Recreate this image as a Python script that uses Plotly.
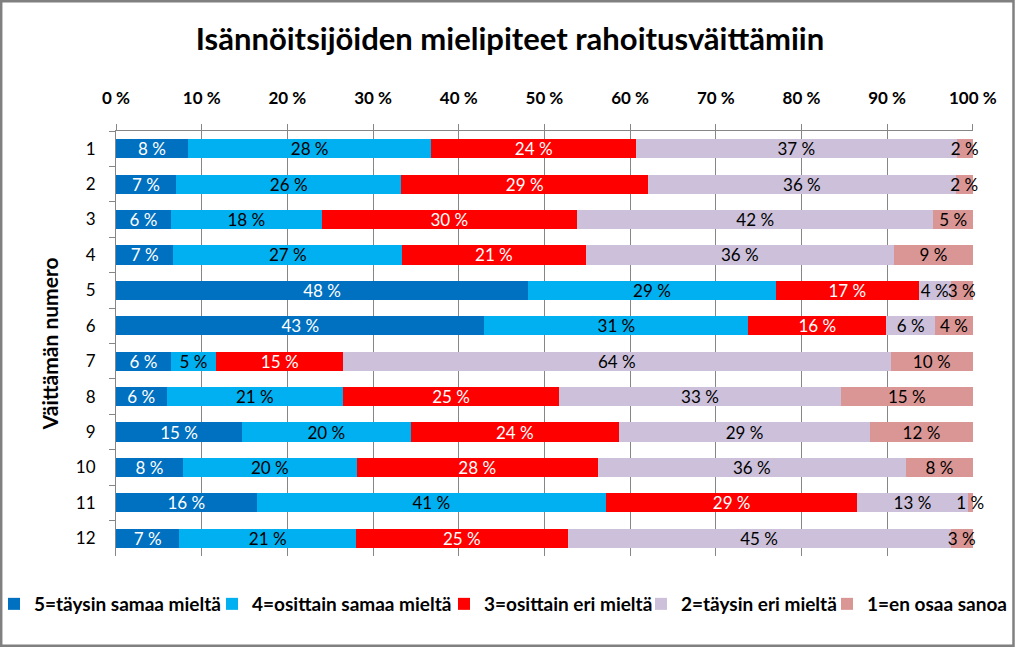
import plotly.graph_objects as go

categories = ["1", "2", "3", "4", "5", "6", "7", "8", "9", "10", "11", "12"]

s5_taysin_samaa = [8.4, 7.0, 6.4, 6.7, 48.1, 43.0, 6.4, 5.9, 14.7, 7.8, 16.4, 7.4]
s4_osittain_samaa = [28.4, 26.3, 17.6, 26.7, 28.9, 30.8, 5.3, 20.6, 19.7, 20.3, 40.8, 20.6]
s3_osittain_eri = [23.9, 28.8, 29.8, 21.4, 16.7, 16.1, 14.8, 25.2, 24.3, 28.1, 29.3, 24.7]
s2_taysin_eri = [37.4, 35.9, 41.6, 36.0, 3.7, 5.7, 63.9, 32.9, 29.3, 36.0, 12.9, 44.7]
s1_en_osaa = [1.9, 2.0, 4.6, 9.2, 2.6, 4.4, 9.6, 15.4, 12.0, 7.8, 0.6, 2.6]

series_names = ["5=täysin samaa mieltä", "4=osittain samaa mieltä", "3=osittain eri mieltä",
                "2=täysin eri mieltä", "1=en osaa sanoa"]
series_values = [s5_taysin_samaa, s4_osittain_samaa, s3_osittain_eri, s2_taysin_eri, s1_en_osaa]
colors = ["#0070C0", "#00B0F0", "#FF0000", "#CCC0DA", "#DA9694"]
text_colors = ["white", "black", "white", "black", "black"]
legend_ids = ["legend", "legend2", "legend3", "legend4", "legend5"]
legend_text_x = [32, 250, 482, 679, 865]   # pixel x where each legend label starts

x_ticks = list(range(0, 101, 10))
x_tick_labels = [f"{t} %" for t in x_ticks]

FONT = "Lato"

fig = go.Figure()
for name, vals, col, tcol, lg in zip(series_names, series_values, colors, text_colors, legend_ids):
    fig.add_trace(go.Bar(
        y=categories, x=vals, name=name, orientation="h", legend=lg,
        marker=dict(color=col, line=dict(width=0)),
        text=[f"{round(v):.0f} %" for v in vals],
        textposition="inside", insidetextanchor="middle", textangle=0,
        textfont=dict(family=FONT, size=17, color=tcol),
        constraintext="none", cliponaxis=False,
        hoverinfo="skip",
    ))

W, H = 1017, 648
L, R, T, B = 116, 44, 131, 92
pw, ph = W - L - R, H - T - B

def px(x):
    return (x - L) / pw

def py(y):
    return (H - B - y) / ph

legend_layouts = {}
for lg, tx in zip(legend_ids, legend_text_x):
    legend_layouts[lg] = dict(
        orientation="h", x=px(tx - 38), xanchor="left", y=py(604), yanchor="middle",
        font=dict(family=FONT, size=19, color="black", weight="bold"),
        itemwidth=30, bgcolor="rgba(0,0,0,0)", borderwidth=0)

fig.update_layout(
    barmode="stack", bargap=0.46,
    width=W, height=H,
    margin=dict(l=L, r=R, t=T, b=B, autoexpand=False),
    paper_bgcolor="white", plot_bgcolor="white",
    font=dict(family=FONT, color="black"),
    uniformtext=dict(minsize=17, mode="show"),
    title=dict(text="<b>Isännöitsijöiden mielipiteet rahoitusväittämiin</b>",
               x=510 / W, xref="container", xanchor="center",
               y=1 - 39 / H, yref="container", yanchor="middle",
               font=dict(family=FONT, size=31, color="black")),
    xaxis=dict(side="top", range=[0, 100.02], tickvals=x_ticks, ticktext=x_tick_labels,
               showgrid=True, gridcolor="#868686", gridwidth=1,
               showline=True, linecolor="#868686", linewidth=1,
               ticks="outside", ticklen=6, tickcolor="#868686",
               ticklabelstandoff=13,
               tickfont=dict(family=FONT, size=17, color="black", weight="bold"),
               zeroline=False, fixedrange=True),
    yaxis=dict(autorange="reversed", type="category",
               showline=True, linecolor="#868686", linewidth=1,
               ticks="outside", ticklen=6, tickcolor="#868686", tickson="boundaries",
               ticklabelstandoff=16,
               tickfont=dict(family=FONT, size=17, color="black"),
               title=dict(text="<b>Väittämän numero</b>", standoff=11,
                          font=dict(family=FONT, size=21, color="black")),
               showgrid=False, fixedrange=True),
    showlegend=True,
    **legend_layouts,
)

fig.add_shape(type="rect", xref="paper", yref="paper",
              x0=px(1.2), x1=px(1013.5), y0=py(645.8), y1=py(1.2),
              line=dict(color="#808080", width=2.5), fillcolor="rgba(0,0,0,0)", layer="above")

fig.write_html("out.html", config={"displayModeBar": False},
               post_script="document.body.style.margin='0';document.body.style.overflow='hidden';")
